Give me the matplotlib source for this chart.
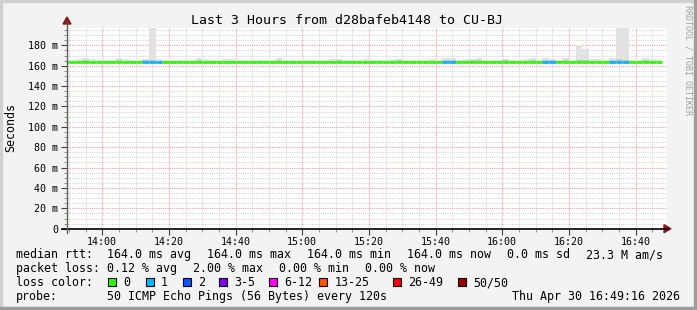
import numpy as np
import matplotlib
matplotlib.use("Agg")
import matplotlib.pyplot as plt
from matplotlib.patches import Rectangle
from matplotlib.collections import LineCollection

plt.rcParams['font.family'] = ['DejaVu Sans Mono']

# time in minutes from 14:00, one step = 120 s
step_start = -12
step_len = 2
median_rtt = [164.0] * 90
# top of the light smoke (max of the 50 pings), ms
smoke_hi = [165.5, 166, 166.5, 168, 167, 166, 166, 165.5, 168, 167,
            166, 165.5, 167, 197, 166.5, 166, 166, 165.5, 166, 166,
            167.5, 167, 166, 165.5, 167, 166.5, 166, 165.5, 166, 166,
            166, 165.5, 167.5, 166, 165.5, 166, 166, 165.5, 166, 166,
            166.5, 167, 165.5, 166, 166, 167, 166, 165.5, 166, 166.5,
            167, 166, 166, 165.5, 166, 167, 166, 168, 167.5, 166,
            166.5, 167, 168, 166, 165.5, 166, 167, 166, 166, 166.5,
            168, 166, 167.5, 167, 166, 168, 166, 180, 176.5, 167,
            166.5, 166, 167.5, 197, 197, 166, 165.5, 168, 167, 166]
# darker inner smoke
smoke_mid = [164.8, 165, 165, 165.5, 165, 164.8, 165, 164.8, 165.5, 165,
             164.8, 164.8, 165.5, 166, 165, 164.8, 165, 164.8, 165, 164.8,
             165.5, 165, 164.8, 164.8, 165, 165, 164.8, 164.8, 165, 164.8,
             165, 164.8, 165.5, 164.8, 164.8, 165, 164.8, 164.8, 165, 164.8,
             165, 165.5, 164.8, 164.8, 165, 165, 164.8, 164.8, 165, 165,
             165.5, 164.8, 165, 164.8, 164.8, 165, 164.8, 166, 165.5, 164.8,
             165, 165.5, 165.5, 164.8, 164.8, 165, 165.5, 164.8, 165, 165,
             165.5, 164.8, 166, 165.5, 164.8, 165.5, 165, 166, 165.5, 165,
             165, 164.8, 165.5, 166.5, 166, 165, 164.8, 165.5, 165, 164.8]
# lost pings out of 50 per step
loss = [0] * 90
for i in [12, 13, 14, 57, 58, 72, 73, 82, 83, 84]:
    loss[i] = 1

loss_colors = ['#26ff00', '#00b8ff', '#0059ff', '#7e00ff', '#ff00ff', '#ff5500', '#ff0000', '#a00000']
loss_labels = ['0', '1', '2', '3-5', '6-12', '13-25', '26-49', '50/50']

x_ticks = [0, 20, 40, 60, 80, 100, 120, 140, 160]
x_labels = ['14:00', '14:20', '14:40', '15:00', '15:20', '15:40', '16:00', '16:20', '16:40']
y_ticks = [0, 20, 40, 60, 80, 100, 120, 140, 160, 180]
y_labels = ['0'] + ['%d m' % v for v in y_ticks[1:]]

W, H = 697, 310
fig = plt.figure(figsize=(W / 100, H / 100), dpi=100)
fig.patch.set_facecolor('#f3f3f3')

def fx(px):
    return px / W

def fy(py):
    return 1 - py / H

# frame edges
fig.patches.append(Rectangle((0, 0), 2 / W, 1, transform=fig.transFigure, color='#d0d0d0', zorder=0))
fig.patches.append(Rectangle((0, 1 - 2 / H), 1, 2 / H, transform=fig.transFigure, color='#d0d0d0', zorder=0))
fig.patches.append(Rectangle((1 - 3 / W, 0), 3 / W, 1, transform=fig.transFigure, color='#9c9c9c', zorder=0))
fig.patches.append(Rectangle((0, 0), 1, 3 / H, transform=fig.transFigure, color='#9c9c9c', zorder=0))

left, right, top, bottom = 66.5, 666.5, 28, 228.7
ax = fig.add_axes([fx(left), fy(bottom), fx(right - left), (bottom - top) / H])
ax.set_facecolor('white')
ax.set_xlim(-10.73, 169.27)
ax.set_ylim(0, 197)

edges = step_start + step_len * np.arange(len(median_rtt) + 1)
ax.stairs(smoke_hi, edges, baseline=163.5, fill=True, color='#e2e2e2', zorder=2)
ax.stairs(smoke_mid, edges, baseline=163.5, fill=True, color='#c6c6c6', zorder=2)

segs = [[(edges[i], median_rtt[i]), (edges[i + 1], median_rtt[i])] for i in range(len(median_rtt))]
cols = [loss_colors[0] if l == 0 else loss_colors[1] for l in loss]
ax.add_collection(LineCollection(segs, colors=cols, linewidths=2.0, zorder=3, capstyle='butt'))

# grid
ax.set_xticks(x_ticks)
ax.set_xticklabels(x_labels)
ax.set_xticks(np.arange(-10, 170, 5), minor=True)
ax.set_yticks(y_ticks)
ax.set_yticklabels(y_labels)
ax.set_yticks(np.arange(0, 197, 5), minor=True)
ax.grid(which='minor', color='#d6d6d6', linestyle=(0, (1, 1)), linewidth=0.8, zorder=1)
ax.grid(which='major', color='#f2a0a0', linestyle=(0, (1, 1)), linewidth=0.8, zorder=1)
ax.set_axisbelow(True)
ax.tick_params(which='major', length=4, width=0.8, labelsize=7.2, pad=2, color='#404040')
ax.tick_params(which='minor', length=2, width=0.6, color='#808080')
for s in ax.spines.values():
    s.set_visible(False)

# axes lines and arrows
fig.add_artist(plt.Line2D([fx(62), fx(668)], [fy(bottom), fy(bottom)], color='black', lw=1.2))
fig.add_artist(plt.Line2D([fx(67), fx(67)], [fy(bottom + 4), fy(22)], color='#606060', lw=1.0))
fig.add_artist(plt.Polygon([[fx(664), fy(bottom - 4)], [fx(671), fy(bottom)], [fx(664), fy(bottom + 4)]],
                           closed=True, color='#8b1a1a'))
fig.add_artist(plt.Polygon([[fx(63), fy(24)], [fx(67), fy(17)], [fx(71), fy(24)]],
                           closed=True, color='#8b1a1a'))

# texts
fig.text(fx(347), fy(24), 'Last 3 Hours from d28bafeb4148 to CU-BJ', ha='center', va='baseline', fontsize=9.5)
fig.text(fx(11), fy(128), 'Seconds', rotation=90, ha='center', va='center', fontsize=8.4)
fig.text(fx(688), fy(5), 'RRDTOOL / TOBI OETIKER', rotation=270, ha='center', va='top', fontsize=6, color='#a0a0a0')

fs = 8.4
b1, b2, b3, b4 = 258, 272, 286, 300
fig.text(fx(16), fy(b1), 'median rtt:', va='baseline', fontsize=fs)
for px, s in zip([107, 207, 307, 407, 507, 586],
                 ['164.0 ms avg', '164.0 ms max', '164.0 ms min', '164.0 ms now', '0.0 ms sd', '23.3 M am/s']):
    fig.text(fx(px), fy(b1), s, va='baseline', fontsize=fs)
fig.text(fx(16), fy(b2), 'packet loss:', va='baseline', fontsize=fs)
for px, s in zip([107, 193, 279, 365], ['0.12 % avg', '2.00 % max', '0.00 % min', '0.00 % now']):
    fig.text(fx(px), fy(b2), s, va='baseline', fontsize=fs)
fig.text(fx(16), fy(b3), 'loss color:', va='baseline', fontsize=fs)
sq_x = [108.3, 145.7, 182.7, 219.3, 269.3, 319.3, 393.3, 458.3]
for px, c, lab in zip(sq_x, loss_colors, loss_labels):
    fig.patches.append(Rectangle((fx(px), fy(286)), 8 / W, 8 / H, transform=fig.transFigure,
                                 facecolor=c, edgecolor='black', lw=0.8))
    fig.text(fx(px + 15), fy(b3), lab, va='baseline', fontsize=fs)
fig.text(fx(16), fy(b4), 'probe:', va='baseline', fontsize=fs)
fig.text(fx(107), fy(b4), '50 ICMP Echo Pings (56 Bytes) every 120s', va='baseline', fontsize=fs)
fig.text(fx(680), fy(b4), 'Thu Apr 30 16:49:16 2026', ha='right', va='baseline', fontsize=fs)

fig.savefig('out.png', dpi=100, facecolor=fig.get_facecolor())
